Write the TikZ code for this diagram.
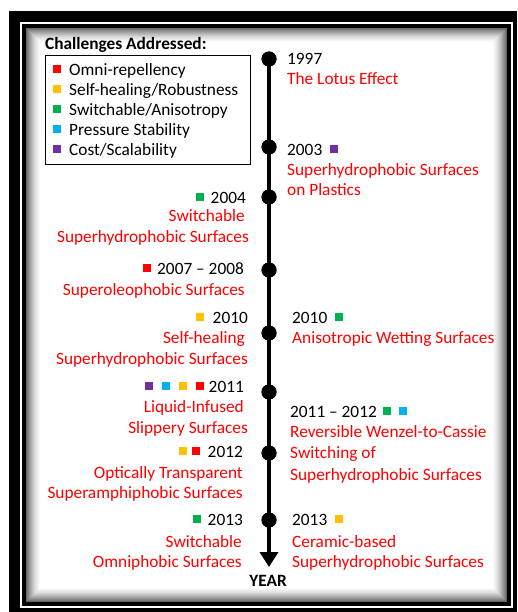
\documentclass[tikz,border=0pt]{standalone}
\usepackage{fontspec}
\setmainfont{Carlito}
\usetikzlibrary{arrows.meta}
\definecolor{cred}{HTML}{FF0000}
\definecolor{cyel}{HTML}{FFC000}
\definecolor{cgrn}{HTML}{00B050}
\definecolor{cblu}{HTML}{00B0F0}
\definecolor{cpur}{HTML}{7030A0}
\newcommand\sqbox[1]{\textcolor{#1}{\rule[2.5pt]{8pt}{8pt}}}
\tikzset{
  txt/.style={inner sep=0pt, font=\fontsize{17.3}{20.5}\selectfont},
  yrR/.style={txt, anchor=base west, text=black},
  yrL/.style={txt, anchor=base east, text=black},
  dsR/.style={txt, anchor=base west, text=cred},
  dsL/.style={txt, anchor=base east, text=cred},
  dot/.style={circle, fill=black, inner sep=0pt, minimum size=15pt},
  axis/.style={line width=4.5pt, -{Triangle[width=18pt,length=15pt]}},
  legitem/.style={txt, anchor=base west}
}
\begin{document}
\begin{tikzpicture}[x=1pt,y=-1pt]
\useasboundingbox (0,0) rectangle (517,612);
% frame
\fill[white] (0,0) rectangle (517,612);
\fill[black] (9,11) rectangle (517,612);
\fill[white] (20,22) rectangle (513,608);
\fill[black] (22,24) rectangle (511,606);
\fill[white] (26,28) rectangle (507,602);
\foreach \i in {0,...,14}{
  \pgfmathtruncatemacro\c{int(60*(1-\i/15)^1.6)}
  \draw[black!\c, line width=1.05pt] (26+\i+0.5,28+\i+0.5) rectangle (507-\i-0.5,602-\i-0.5);
}
% legend
\node[txt, anchor=base west, font=\fontsize{17.3}{20.5}\selectfont\bfseries] (legtitle) at (45,50) {Challenges Addressed:};
\node[draw, line width=1.3pt, minimum width=205pt, minimum height=109pt, anchor=north west, inner sep=0pt] (legend) at (45,55) {};
\node[legitem] (l1) at (53,75.5) {\sqbox{cred}\hspace{8pt}Omni-repellency};
\node[legitem] (l2) at (53,95.5) {\sqbox{cyel}\hspace{8pt}Self-healing/Robustness};
\node[legitem] (l3) at (53,115.5) {\sqbox{cgrn}\hspace{8pt}Switchable/Anisotropy};
\node[legitem] (l4) at (53,135.5) {\sqbox{cblu}\hspace{8pt}Pressure Stability};
\node[legitem] (l5) at (53,155.5) {\sqbox{cpur}\hspace{8pt}Cost/Scalability};
% timeline
\coordinate (tip) at (269,567);
\node[dot] (t1997) at (269,59) {};
\node[dot] (t2003) at (269,147) {};
\node[dot] (t2004) at (269,197) {};
\node[dot] (t2007) at (269,270) {};
\node[dot] (t2010) at (269,333) {};
\node[dot] (t2011) at (269,392) {};
\node[dot] (t2012) at (269,453) {};
\node[dot] (t2013) at (269,520) {};
\draw[axis] (t1997.center) -- (tip);
\foreach \n in {t1997,t2003,t2004,t2007,t2010,t2011,t2012,t2013}{\fill (\n) circle (7.5pt);}
\node[txt, anchor=base, font=\fontsize{17.3}{20.5}\selectfont\bfseries] (year) at (268,586) {YEAR};
% right side
\node[yrR] (y1997) at (287,64.5) {1997};
\node[dsR] (d1997) at (287,84.5) {The Lotus Effect};
\node[yrR] (y2003) at (287,155.5) {2003\hspace{8pt}\sqbox{cpur}};
\node[dsR] (d2003a) at (287,175.5) {Superhydrophobic Surfaces};
\node[dsR] (d2003b) at (287,195.5) {on Plastics};
\node[yrR] (y2010R) at (292,323.5) {2010\hspace{8pt}\sqbox{cgrn}};
\node[dsR] (d2010R) at (292,343.5) {Anisotropic Wetting Surfaces};
\node[yrR] (y2011R) at (290,417.5) {2011 -- 2012\hspace{6pt}\sqbox{cgrn}\hspace{8pt}\sqbox{cblu}};
\node[dsR] (d2011Ra) at (290,437.5) {Reversible Wenzel-to-Cassie};
\node[dsR] (d2011Rb) at (290,458.5) {Switching of};
\node[dsR] (d2011Rc) at (290,480) {Superhydrophobic Surfaces};
\node[yrR] (y2013R) at (292,525.5) {2013\hspace{8pt}\sqbox{cyel}};
\node[dsR] (d2013Ra) at (292,547) {Ceramic-based};
\node[dsR] (d2013Rb) at (292,567.5) {Superhydrophobic Surfaces};
% left side
\node[yrL] (y2004) at (246,203.5) {\sqbox{cgrn}\hspace{7pt}2004};
\node[dsL] (d2004a) at (245,221.5) {Switchable};
\node[dsL] (d2004b) at (249,242.5) {Superhydrophobic Surfaces};
\node[yrL] (y2007) at (244,274.5) {\sqbox{cred}\hspace{6pt}2007 -- 2008};
\node[dsL] (d2007) at (245,295.5) {Superoleophobic Surfaces};
\node[yrL] (y2010L) at (248,323.5) {\sqbox{cyel}\hspace{9pt}2010};
\node[dsL] (d2010La) at (245,343.5) {Self-healing};
\node[dsL] (d2010Lb) at (248,364.5) {Superhydrophobic Surfaces};
\node[yrL] (y2011L) at (244,392.5) {\sqbox{cpur}\hspace{9pt}\sqbox{cblu}\hspace{9pt}\sqbox{cyel}\hspace{9pt}\sqbox{cred}\hspace{5pt}2011};
\node[dsL] (d2011La) at (244,412.5) {Liquid-Infused};
\node[dsL] (d2011Lb) at (248,433.5) {Slippery Surfaces};
\node[yrL] (y2012) at (243,457.5) {\sqbox{cyel}\hspace{5pt}\sqbox{cred}\hspace{8pt}2012};
\node[dsL] (d2012a) at (243,478.5) {Optically Transparent};
\node[dsL] (d2012b) at (243,498.5) {Superamphiphobic Surfaces};
\node[yrL] (y2013L) at (243,525.5) {\sqbox{cgrn}\hspace{7pt}2013};
\node[dsL] (d2013La) at (242,547) {Switchable};
\node[dsL] (d2013Lb) at (242,567.5) {Omniphobic Surfaces};
\end{tikzpicture}
\end{document}
